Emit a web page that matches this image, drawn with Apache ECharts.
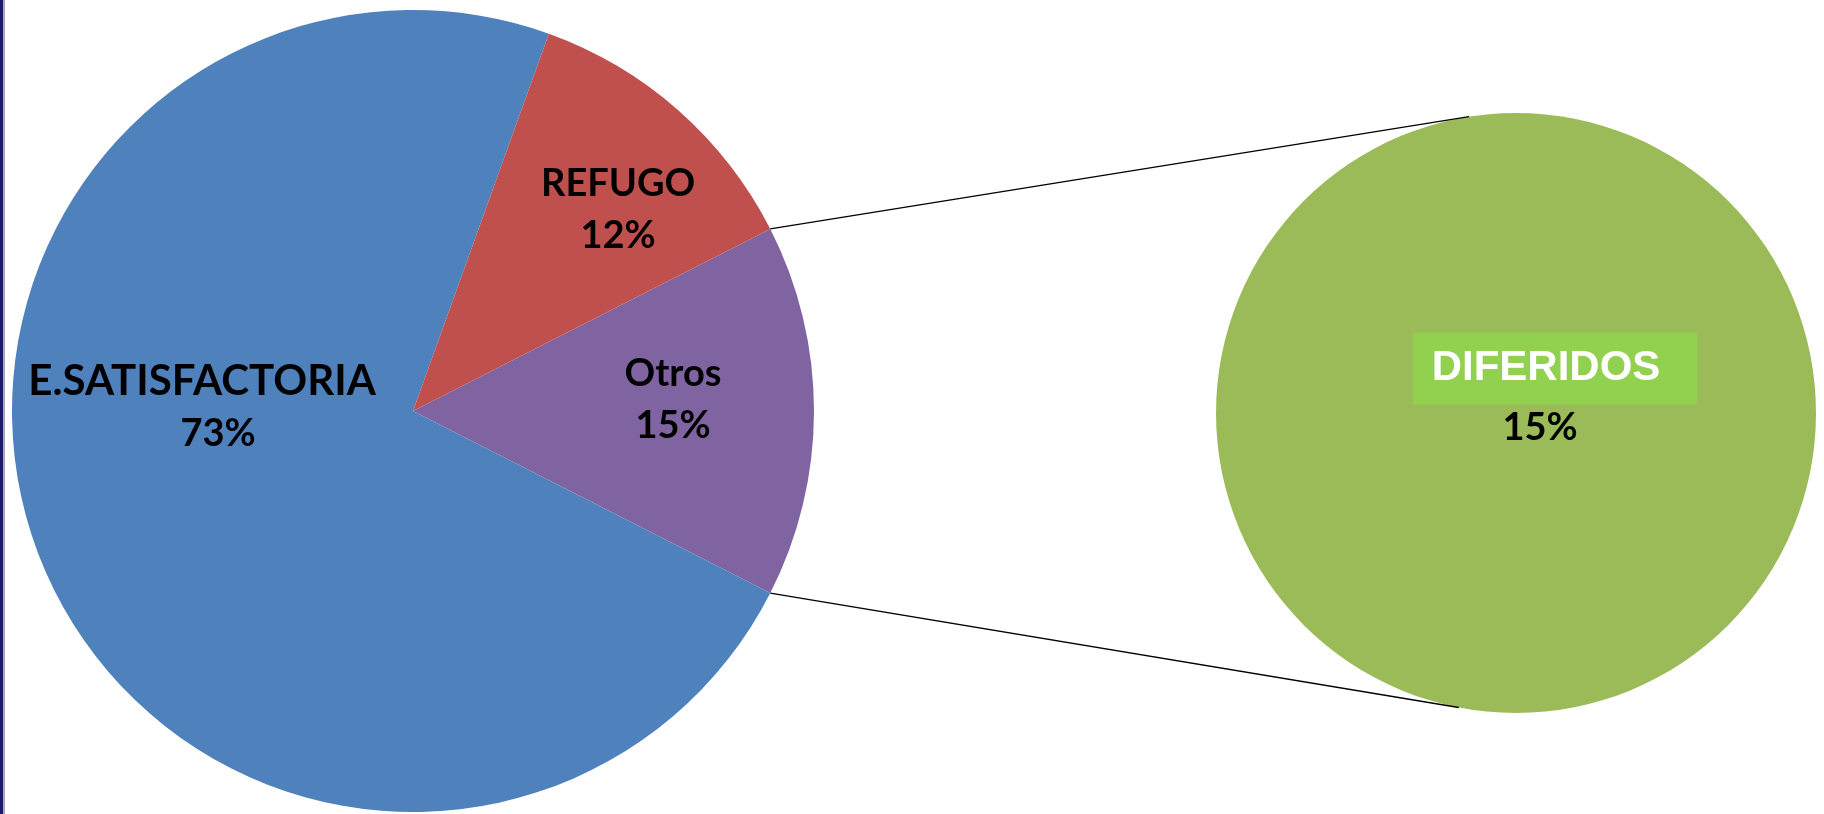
<!DOCTYPE html>
<html><head><meta charset="utf-8">
<script src="https://cdn.jsdelivr.net/npm/echarts@6/dist/echarts.min.js"></script>
<style>html,body{margin:0;padding:0;background:#fff}#c{width:1824px;height:814px}</style>
</head><body><div id="c"></div>
<script>
// ---- data ----
const mainCategories = ['Otros', 'E.SATISFACTORIA', 'REFUGO'];
const mainValues = [15, 73, 12];
const subCategories = ['DIFERIDOS'];
const subValues = [15];
const mainColors = ['#8064A2', '#4F81BD', '#C0504D'];
const subColors = ['#9BBB59'];

// ---- layout ----
const C1 = [413, 411], R1 = 401;
const C2 = [1516, 413], R2 = 300;
const total = mainValues.reduce((a, b) => a + b, 0);
const otrosIdx = mainCategories.indexOf('Otros');
const halfAngle = mainValues[otrosIdx] / total * 360 / 2;
// label placement: [angle deg, fraction of radius]
const labelPlace = { 'Otros': [2.4, 0.649], 'E.SATISFACTORIA': [179, 0.526], 'REFUGO': [44.4, 0.716] };
const subLabelPlace = [0.13, -0.0645];
const connAngleTop = 99, connAngleBottom = -101;

const LBL = 'Lato';
const chart = echarts.init(document.getElementById('c'), null, { renderer: 'canvas' });

function polar(c, r, deg) {
  const a = deg * Math.PI / 180;
  return [c[0] + r * Math.cos(a), c[1] - r * Math.sin(a)];
}
const pA = polar(C1, R1, halfAngle), pB = polar(C1, R1, -halfAngle);
const qA = polar(C2, R2, connAngleTop), qB = polar(C2, R2, connAngleBottom);

chart.setOption({
  backgroundColor: '#ffffff',
  animation: false,
  graphic: [
    { type: 'rect', shape: { x: 0, y: 0, width: 3, height: 814 }, style: { fill: '#1c1c6b' } },
    { type: 'rect', shape: { x: 3, y: 0, width: 2, height: 814 }, style: { fill: '#a8a8b0' } },
    { type: 'line', shape: { x1: pA[0], y1: pA[1], x2: qA[0], y2: qA[1] }, style: { stroke: '#000', lineWidth: 1.3 }, z: 10 },
    { type: 'line', shape: { x1: pB[0], y1: pB[1], x2: qB[0], y2: qB[1] }, style: { stroke: '#000', lineWidth: 1.3 }, z: 10 }
  ],
  series: [
    {
      type: 'pie',
      center: C1,
      radius: R1,
      startAngle: halfAngle,
      clockwise: true,
      silent: true,
      itemStyle: { borderWidth: 0 },
      emphasis: { disabled: true },
      labelLine: { show: false },
      label: {
        show: true,
        position: 'inside',
        formatter: p => p.name === 'E.SATISFACTORIA'
          ? `{ne|${p.name}}\n{pe|${p.percent}%}`
          : `{n|${p.name}}\n{p|${p.percent}%}`,
        rich: {
          n: { fontFamily: LBL, fontWeight: 'bold', fontSize: 38, color: '#000', lineHeight: 52 },
          ne: { fontFamily: LBL, fontWeight: 'bold', fontSize: 42, color: '#000', lineHeight: 52 },
          p: { fontFamily: LBL, fontWeight: 'bold', fontSize: 38, color: '#000', lineHeight: 52 },
          pe: { fontFamily: LBL, fontWeight: 'bold', fontSize: 38, color: '#000', lineHeight: 52, padding: [0, 0, 0, 32] }
        }
      },
      labelLayout: function (params) {
        const name = mainCategories[params.dataIndex];
        const [a, f] = labelPlace[name];
        const pt = polar(C1, f * R1, a);
        return { x: pt[0], y: pt[1], align: 'center', verticalAlign: 'middle' };
      },
      data: mainCategories.map((n, i) => ({ name: n, value: mainValues[i], itemStyle: { color: mainColors[i] } }))
    },
    {
      type: 'pie',
      center: C2,
      radius: R2,
      silent: true,
      itemStyle: { borderWidth: 0 },
      emphasis: { disabled: true },
      labelLine: { show: false },
      label: {
        show: true,
        position: 'inside',
        formatter: p => `{b|${p.name}}\n{p|${p.value}%}`,
        rich: {
          b: { fontFamily: 'Liberation Sans', fontWeight: 'bold', fontSize: 42, color: '#fff', backgroundColor: '#92D050', padding: [15, 37, 15, 19], lineHeight: 41 },
          p: { fontFamily: LBL, fontWeight: 'bold', fontSize: 38, color: '#000', lineHeight: 50, padding: [27.5, 30, 0, 0] }
        }
      },
      labelLayout: function () {
        return { x: C2[0] + subLabelPlace[0] * R2, y: C2[1] + subLabelPlace[1] * R2, align: 'center', verticalAlign: 'middle' };
      },
      data: subCategories.map((n, i) => ({ name: n, value: subValues[i], itemStyle: { color: subColors[i] } }))
    }
  ]
});
</script>
</body></html>
